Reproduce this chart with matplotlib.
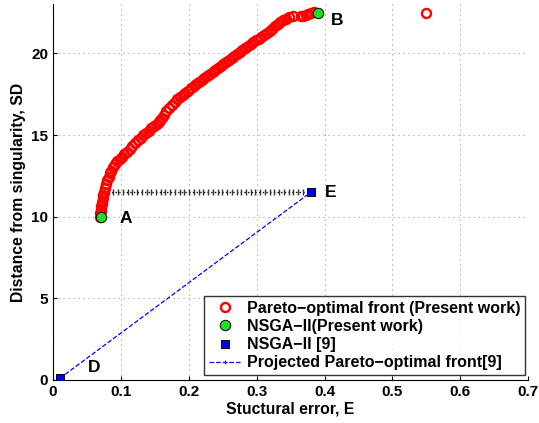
import numpy as np
import matplotlib
matplotlib.use("Agg")
import matplotlib.pyplot as plt

plt.rcParams['font.family'] = ['Liberation Sans', 'DejaVu Sans']
plt.rcParams['font.weight'] = 'bold'

# Pareto-optimal front (present work)
pareto_x = [0.069, 0.0695, 0.070, 0.0705, 0.071, 0.0715, 0.072, 0.073, 0.074, 0.075,
            0.0765, 0.078, 0.080, 0.082, 0.084, 0.086, 0.089, 0.092, 0.095, 0.098,
            0.101, 0.105, 0.109, 0.113, 0.117, 0.121, 0.125, 0.129, 0.133, 0.137,
            0.141, 0.145, 0.149, 0.153, 0.156, 0.158, 0.160, 0.163, 0.167, 0.171,
            0.175, 0.179, 0.183, 0.187, 0.191, 0.195, 0.199, 0.203, 0.207, 0.211,
            0.215, 0.219, 0.223, 0.227, 0.231, 0.235, 0.239, 0.243, 0.247, 0.251,
            0.255, 0.259, 0.263, 0.267, 0.271, 0.275, 0.279, 0.283, 0.287, 0.291,
            0.295, 0.299, 0.303, 0.307, 0.311, 0.315, 0.319, 0.323, 0.327, 0.331,
            0.335, 0.339, 0.343, 0.348, 0.353, 0.365, 0.368, 0.372, 0.376,
            0.380, 0.384, 0.550]
pareto_y = [10.0, 10.2, 10.35, 10.5, 10.65, 10.78, 10.9, 11.12, 11.32, 11.5,
            11.78, 12.0, 12.25, 12.45, 12.65, 12.82, 13.03, 13.23, 13.42, 13.56,
            13.68, 13.83, 13.99, 14.15, 14.31, 14.5, 14.67, 14.83, 14.98, 15.12,
            15.26, 15.4, 15.53, 15.65, 15.8, 15.92, 16.05, 16.25, 16.45, 16.65,
            16.85, 17.02, 17.18, 17.33, 17.45, 17.58, 17.72, 17.86, 17.99, 18.1,
            18.22, 18.34, 18.47, 18.6, 18.72, 18.84, 18.96, 19.08, 19.2, 19.34,
            19.47, 19.6, 19.72, 19.84, 19.96, 20.07, 20.18, 20.3, 20.43, 20.56,
            20.69, 20.8, 20.9, 21.0, 21.1, 21.22, 21.37, 21.52, 21.66, 21.78,
            21.9, 22.02, 22.12, 22.22, 22.3, 22.3, 22.3, 22.36, 22.42,
            22.47, 22.52, 22.5]

# NSGA-II (present work): points A and B
nsga_x = [0.07, 0.39]
nsga_y = [10.0, 22.5]

# NSGA-II [9]: points D and E
ref_x = [0.01, 0.38]
ref_y = [0.1, 11.5]

# horizontal connector at E level
conn_x = [0.075, 0.375]
conn_y = 11.5

labels = ['A', 'B', 'E', 'D']
label_x = [0.098, 0.409, 0.401, 0.051]
label_y = [9.9, 22.0, 11.5, 0.75]

xticks = [0, 0.1, 0.2, 0.3, 0.4, 0.5, 0.6, 0.7]
xticklabels = ['0', '0.1', '0.2', '0.3', '0.4', '0.5', '0.6', '0.7']
yticks = [0, 5, 10, 15, 20]

fig = plt.figure(figsize=(5.39, 4.23), dpi=100)
ax = fig.add_axes([0.0983, 0.1017, 0.8817, 0.888])

ax.plot(pareto_x, pareto_y, 'o', mfc='none', mec='red', ms=6.5, mew=1.7,
        label='Pareto\u2212optimal front (Present work)', zorder=3)
ax.plot(nsga_x, nsga_y, 'o', mfc='#22dd22', mec='black', ms=7.5, mew=0.7,
        label='NSGA\u2212II(Present work)', zorder=5)
ax.plot(ref_x, ref_y, 's', mfc='blue', mec='black', ms=6, mew=0.7,
        label='NSGA\u2212II [9]', zorder=5)
ax.plot(ref_x, ref_y, '--', color='blue', lw=0.9, marker='+', ms=3, mew=0.8,
        label='Projected Pareto\u2212optimal front[9]', zorder=4)

tick_x = np.linspace(conn_x[0], conn_x[1], 44)
ax.plot(conn_x, [conn_y, conn_y], ':', color='black', lw=1.0, zorder=2)
ax.plot(tick_x, np.full_like(tick_x, conn_y), '|', color='#333333', ms=5, mew=1.0,
        zorder=2)

for t, x, y in zip(labels, label_x, label_y):
    ax.text(x, y, t, fontsize=12.5, fontweight='bold', ha='left', va='center')

ax.set_xlim(0, 0.7)
ax.set_ylim(0, 23)
ax.set_xticks(xticks)
ax.set_xticklabels(xticklabels)
ax.set_yticks(yticks)
ax.tick_params(direction='in', labelsize=11, length=3, width=0.8)
for lab in ax.get_xticklabels() + ax.get_yticklabels():
    lab.set_fontweight('bold')
ax.grid(True, linestyle=(0, (1, 3.5)), color='#999999', lw=0.8)
ax.spines['top'].set_visible(False)
ax.spines['right'].set_visible(False)

ax.set_xlabel('Stuctural error, E', fontsize=11.3, fontweight='bold', labelpad=2)
ax.set_ylabel('Distance from singularity, SD', fontsize=11.3, fontweight='bold', labelpad=4)

leg = ax.legend(loc='lower right', bbox_to_anchor=(0.994, 0.013), fontsize=11.5,
                frameon=True, fancybox=False, edgecolor='black', handlelength=2.0,
                handletextpad=0.4, labelspacing=0.2, borderpad=0.3, borderaxespad=0)
leg.get_frame().set_linewidth(1.0)
for t in leg.get_texts():
    t.set_fontweight('bold')

fig.savefig('out.png', dpi=100)
